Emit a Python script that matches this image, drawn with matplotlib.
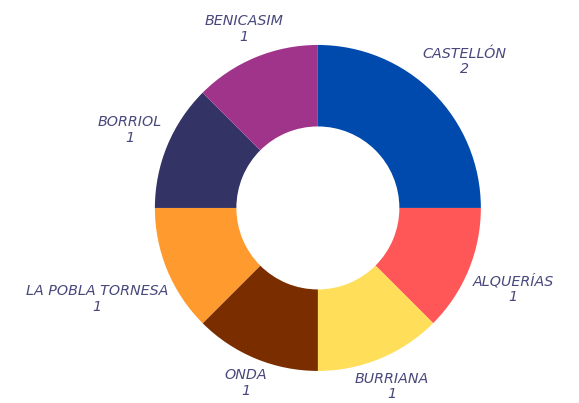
import matplotlib
matplotlib.use("Agg")
import matplotlib.pyplot as plt
import numpy as np

cities = ["CASTELLÓN", "ALQUERÍAS", "BURRIANA", "ONDA",
          "LA POBLA TORNESA", "BORRIOL", "BENICASIM"]
counts = [2, 1, 1, 1, 1, 1, 1]
colors = ["#004AAD", "#FF5757", "#FFDE59", "#7A2E00",
          "#FF9A2E", "#333366", "#A0338A"]

labels = [f"{c}\n{n}" for c, n in zip(cities, counts)]

fig = plt.figure(figsize=(5.79, 4.03), dpi=100)
ax = fig.add_axes([0.549 - 0.2815, 0.484 - 0.4045, 0.563, 0.809])

wedges, _ = ax.pie(counts, colors=colors, startangle=90,
                   counterclock=False,
                   wedgeprops=dict(width=0.5, linewidth=0))
ax.set_xlim(-1, 1)
ax.set_ylim(-1, 1)
ax.set_aspect("equal")

# labels centred on the slice direction, pushed out until the text box clears a ring
renderer = fig.canvas.get_renderer()
px_per_unit = ax.transData.transform((1, 0))[0] - ax.transData.transform((0, 0))[0]
R = 1.03
for w, lab in zip(wedges, labels):
    ang = np.deg2rad((w.theta1 + w.theta2) / 2)
    c, s = np.cos(ang), np.sin(ang)
    t = ax.text(0, 0, lab, ha="center", va="center", fontsize=10.3,
                fontstyle="italic", family="DejaVu Sans", color="#48487C",
                multialignment="center", linespacing=1.15)
    bb = t.get_window_extent(renderer)
    hw = bb.width / 2 / px_per_unit
    hh = bb.height / 2 / px_per_unit
    a = np.sign(round(c, 6)) * hw
    b = np.sign(round(s, 6)) * hh
    p = a * c + b * s
    d = p + np.sqrt(p * p - (a * a + b * b - R * R))
    t.set_position((d * c, d * s))

fig.savefig("out.png", dpi=100)
